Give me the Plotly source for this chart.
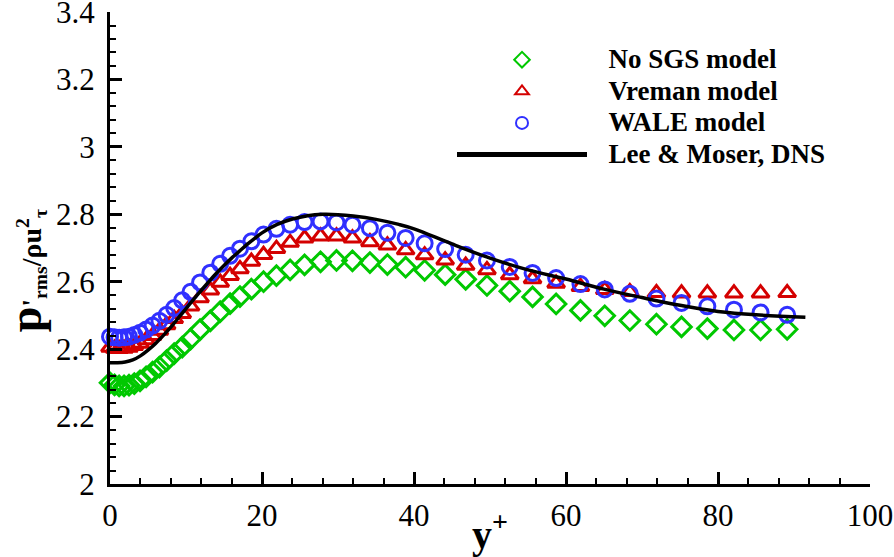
import plotly.graph_objects as go

# LES grid (y+) at which the model profiles are plotted
y_les = [0, 0.6, 1.2, 1.85, 2.5, 3.2, 3.95, 4.75, 5.6, 6.5, 7.45, 8.45, 9.5, 10.6,
         11.85, 13.2, 14.5, 15.8, 17.1, 18.6, 20.2, 21.9, 23.7, 25.6, 27.7, 29.8,
         31.9, 34.2, 36.5, 38.9, 41.4, 44.1, 46.8, 49.6, 52.6, 55.6, 58.7, 61.9,
         65.1, 68.4, 71.9, 75.2, 78.6, 82.1, 85.6, 89.1]

no_sgs = [2.300, 2.294, 2.291, 2.291, 2.293, 2.298, 2.306, 2.318, 2.332, 2.347,
          2.366, 2.387, 2.406, 2.430, 2.458, 2.484, 2.511, 2.535, 2.556, 2.578,
          2.600, 2.618, 2.635, 2.650, 2.659, 2.663, 2.662, 2.657, 2.651, 2.643,
          2.634, 2.621, 2.607, 2.589, 2.572, 2.555, 2.534, 2.515, 2.499, 2.485,
          2.474, 2.466, 2.461, 2.457, 2.457, 2.459]

vreman = [2.405, 2.402, 2.401, 2.402, 2.405, 2.410, 2.417, 2.427, 2.440, 2.455,
          2.472, 2.490, 2.505, 2.527, 2.552, 2.575, 2.598, 2.618, 2.638, 2.660,
          2.680, 2.698, 2.716, 2.729, 2.735, 2.735, 2.729, 2.718, 2.708, 2.694,
          2.679, 2.664, 2.648, 2.635, 2.620, 2.608, 2.595, 2.585, 2.576, 2.570,
          2.567, 2.566, 2.566, 2.566, 2.566, 2.567]

wale = [2.437, 2.435, 2.434, 2.435, 2.437, 2.442, 2.449, 2.458, 2.470, 2.484,
        2.502, 2.522, 2.545, 2.570, 2.598, 2.627, 2.653, 2.677, 2.698, 2.720,
        2.740, 2.757, 2.769, 2.777, 2.779, 2.776, 2.769, 2.759, 2.745, 2.730,
        2.714, 2.697, 2.680, 2.663, 2.644, 2.626, 2.611, 2.593, 2.577, 2.564,
        2.550, 2.537, 2.527, 2.517, 2.509, 2.502]

# Lee & Moser DNS profile
y_dns = [0, 1, 2, 3, 4, 5, 6, 7, 8, 9, 10, 11, 12, 13, 14, 15, 16, 17, 18, 19,
         20, 22, 24, 26, 28, 30, 32, 35, 38, 40, 45, 50, 55, 60, 65, 70, 75, 80,
         85, 91.5]
dns = [2.360, 2.360, 2.362, 2.368, 2.380, 2.397, 2.417, 2.440, 2.465, 2.493,
       2.520, 2.548, 2.574, 2.600, 2.625, 2.648, 2.670, 2.690, 2.710, 2.728,
       2.745, 2.770, 2.786, 2.796, 2.800, 2.799, 2.795, 2.785, 2.770, 2.757,
       2.712, 2.670, 2.635, 2.608, 2.578, 2.553, 2.530, 2.512, 2.502, 2.495]

x_ticks = [0, 20, 40, 60, 80, 100]
y_ticks = [2, 2.2, 2.4, 2.6, 2.8, 3, 3.2, 3.4]
y_ticktext = ["2", "2.2", "2.4", "2.6", "2.8", "3", "3.2", "3.4"]

names = ["No SGS model", "Vreman model", "WALE model", "Lee & Moser, DNS"]
x_title = "<b>y<sup>+</sup></b>"
y_title = "<b><span style='font-size:46px'>p</span>'<sub>rms</sub>/ρu<sup>2</sup><sub>τ</sub></b>"

SERIF = "Liberation Serif"
GREEN = "#00C800"
RED = "#D40000"
BLUE = "#3030FF"


def lname(s):
    return "\u00a0\u00a0\u00a0<span style='font-size:27px'>" + s + "</span>"


fig = go.Figure()
fig.add_trace(go.Scatter(
    x=y_les, y=no_sgs, mode="markers", name=lname(names[0]), cliponaxis=False,
    marker=dict(symbol="diamond-open", size=15, color=GREEN, line=dict(width=3, color=GREEN))))
fig.add_trace(go.Scatter(
    x=y_les, y=vreman, mode="markers", name=lname(names[1]), cliponaxis=False,
    marker=dict(symbol="triangle-up-open", size=15, color=RED, line=dict(width=3, color=RED))))
fig.add_trace(go.Scatter(
    x=y_les, y=wale, mode="markers", name=lname(names[2]), cliponaxis=False,
    marker=dict(symbol="circle-open", size=15, color=BLUE, line=dict(width=3, color=BLUE))))
fig.add_trace(go.Scatter(
    x=y_dns, y=dns, mode="lines", name=lname(names[3]), cliponaxis=False,
    line=dict(color="black", width=3.5, shape="spline")))

axis_common = dict(
    showline=True, linecolor="black", linewidth=3, mirror=False,
    showgrid=False, zeroline=False, automargin=False,
    ticks="inside", ticklen=12, tickwidth=3, tickcolor="black",
    tickfont=dict(family=SERIF, size=31, color="black"),
    ticklabeloverflow="allow",
)

fig.update_xaxes(
    range=[0, 100.0001], tickvals=x_ticks, ticktext=[str(v) for v in x_ticks],
    minor=dict(dtick=4, ticks="inside", ticklen=6, tickwidth=2, tickcolor="black", showgrid=False),
    title=dict(text=x_title, font=dict(family=SERIF, size=40, color="black")),
    ticklabelstandoff=2,
    **axis_common)
fig.update_yaxes(
    range=[2, 3.4001], tickvals=y_ticks, ticktext=y_ticktext,
    minor=dict(dtick=0.04, ticks="inside", ticklen=6, tickwidth=2, tickcolor="black", showgrid=False),
    ticklabelstandoff=6,
    **axis_common)

fig.update_layout(
    width=894, height=557,
    margin=dict(l=110, r=24, t=12, b=73),
    paper_bgcolor="white", plot_bgcolor="white",
    showlegend=True,
    legend=dict(
        x=0.45, y=0.943, xanchor="left", yanchor="top",
        bgcolor="rgba(0,0,0,0)", borderwidth=0,
        font=dict(family=SERIF, size=22, color="black", weight="bold"),
        itemwidth=130, itemsizing="constant",
    ),
    annotations=[dict(
        text=y_title, textangle=-90, showarrow=False,
        xref="paper", yref="paper", x=-0.111, y=0.452,
        xanchor="center", yanchor="middle",
        font=dict(family=SERIF, size=28, color="black"),
    )],
)

# remove the default page margin so the figure fills the window exactly
fig.write_html("out.html", config={"displayModeBar": False},
               post_script="document.body.style.margin='0px';")
